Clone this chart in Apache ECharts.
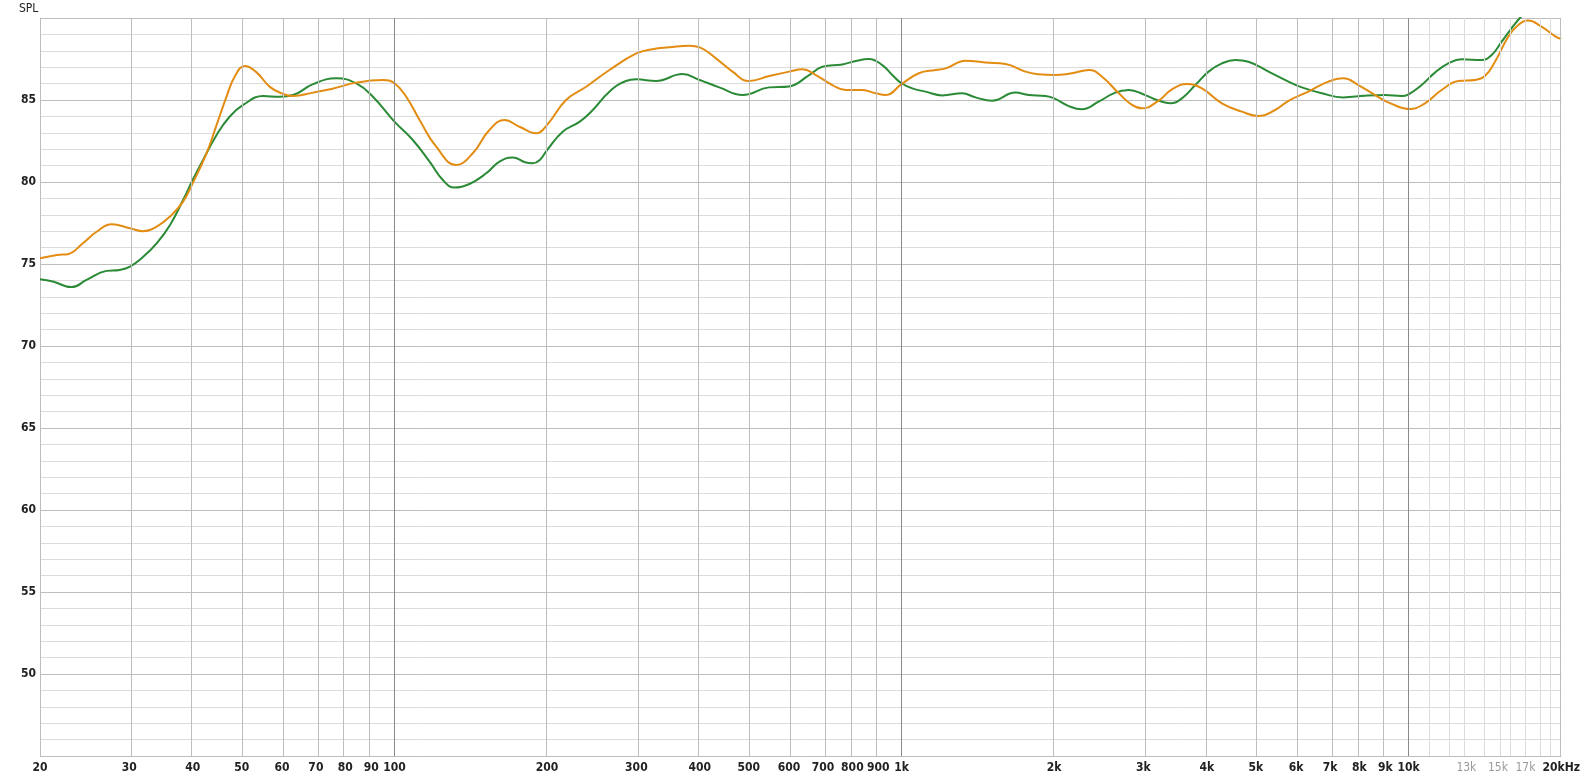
<!DOCTYPE html>
<html>
<head>
<meta charset="utf-8">
<script src="https://cdn.jsdelivr.net/npm/echarts@6/dist/echarts.min.js"></script>
<style>
html,body{margin:0;padding:0;background:#fff;}
#chart{width:1583px;height:780px;}
</style>
</head>
<body>
<div id="chart"></div>
<script>
// ---- data ----
const greenFreq = [20,21.2,23.1,24.7,27.05,28.7,30.1,32,34,36.1,38.3,40,42.1,44.6,47.3,50.3,55.1,59.4,63.1,69.1,76.8,84.1,90.7,100,108.7,117.3,124.6,131.4,140.6,151.7,161.1,171.1,181,187.4,193.5,200,214.7,232,246.1,265.4,286.1,300,327.9,370,400,437.1,485.8,548,600,657.5,698.2,764.7,812.1,862.6,916.2,959,1000,1050,1115,1203,1317,1399,1509,1677,1782,1922,2000,2136,2269,2448,2640,2805,3025,3214,3389,3573,3796,4032,4284,4550,4833,5294,5797,6157,6743,7439,8208,8986,9690,10000,10608,11270,11975,12721,13930,14577,15253,15960,16574,17300,18500,20000];
const greenSPL = [74.07,73.93,73.59,74.03,74.58,74.64,74.84,75.45,76.27,77.38,78.9,80.12,81.45,82.87,83.98,84.7,85.24,85.2,85.3,85.97,86.32,86.01,85.2,83.68,82.56,81.24,80.12,79.66,79.88,80.53,81.24,81.5,81.2,81.14,81.34,81.95,83.07,83.68,84.39,85.51,86.16,86.26,86.16,86.58,86.22,85.77,85.3,85.77,85.83,86.52,87.03,87.17,87.38,87.5,87.13,86.52,86.02,85.71,85.51,85.28,85.41,85.16,84.96,85.45,85.3,85.24,85.1,84.63,84.43,84.9,85.45,85.61,85.3,84.96,84.8,85.1,85.91,86.73,87.23,87.44,87.33,86.73,86.12,85.77,85.41,85.16,85.26,85.3,85.24,85.35,85.91,86.67,87.23,87.48,87.44,87.74,88.55,89.37,90.0,90.6,91.0,91.2];

const orangeFreq = [20,21.6,22.7,24.3,25.9,27.7,30.1,31.96,33.97,36.1,38.3,40,42.6,44.6,46.65,48.4,50.7,53.4,56.8,60,63.1,69.1,75.5,84.1,94.9,100,105.5,112.1,120.9,132.4,142.7,153.9,164.8,176.4,190.3,200,218,238.8,265.4,300,322.9,348.3,381.3,400,430.5,464.2,500,548.1,600.4,637.9,677.6,730.6,776.2,837.2,889.2,930.8,1000,1082,1167,1222,1338,1464,1604,1755,1865,2000,2169,2341,2486,2682,2848,2980,3214,3414,3656,3913,4284,4691,5057,5455,5797,6344,6948,7439,7959,8589,9262,10080,10770,11617,12530,13517,14143,14802,15720,16452,17219,18288,19427,20000];
const orangeSPL = [75.35,75.55,75.6,76.27,76.98,77.42,77.18,77.0,77.28,77.9,78.8,79.92,81.75,83.48,85.2,86.42,87.07,86.7,85.8,85.4,85.24,85.45,85.69,86.06,86.22,86.02,85.2,83.78,82.15,81.04,81.75,83.17,83.78,83.37,82.97,83.48,85.0,85.81,86.83,87.84,88.1,88.21,88.31,88.21,87.54,86.73,86.16,86.46,86.73,86.87,86.52,85.91,85.61,85.61,85.41,85.3,85.97,86.63,86.83,86.93,87.4,87.28,87.19,86.73,86.57,86.52,86.63,86.83,86.42,85.41,84.7,84.49,84.96,85.65,85.97,85.71,84.8,84.29,84.02,84.39,84.95,85.51,86.12,86.32,85.91,85.3,84.76,84.45,84.8,85.61,86.16,86.22,86.46,87.33,88.86,89.57,89.84,89.47,88.9,88.72];

const tickFreq = [20,30,40,50,60,70,80,90,100,200,300,400,500,600,700,800,900,1000,2000,3000,4000,5000,6000,7000,8000,9000,10000,13000,15000,17000,20000];
const tickText = ['20','30','40','50','60','70','80','90','100','200','300','400','500','600','700','800','900','1k','2k','3k','4k','5k','6k','7k','8k','9k','10k','13k','15k','17k','20kHz'];
const grayTicks = ['13k','15k','17k'];

const gridFreq = [30,40,50,60,70,80,90,100,200,300,400,500,600,700,800,900,1000,2000,3000,4000,5000,6000,7000,8000,9000,10000,11000,12000,13000,14000,15000,16000,17000,18000,19000,20000];
const decadeFreq = [100,1000,10000];

// ---- build ----
const L = Math.log10;
const FONT = "'Liberation Sans Narrow','DejaVu Sans Condensed','Roboto Condensed','Liberation Sans',sans-serif";
const pairs = (fs, vs) => fs.map((f, i) => [L(f), vs[i]]);

const gridLines = gridFreq.map(f => {
  let color = '#bdbdbd';
  if (decadeFreq.indexOf(f) >= 0) color = '#8a8a8a';
  else if (f > 10000 && f < 20000) color = '#dcdcdc';
  return { xAxis: L(f), lineStyle: { color: color, width: 1, type: 'solid' } };
});

const minorColors = ['#bdbdbd', '#dcdcdc', '#dcdcdc', '#dcdcdc', '#dcdcdc'];

const chart = echarts.init(document.getElementById('chart'), null, { renderer: 'canvas' });
chart.setOption({
  animation: false,
  backgroundColor: '#ffffff',
  title: {
    text: 'SPL', left: 19, top: 3, padding: 0,
    textStyle: { fontFamily: FONT, fontSize: 12, fontWeight: 'normal', color: '#222' }
  },
  grid: { left: 40, right: 20, top: 18, bottom: 24, containLabel: false },
  xAxis: {
    type: 'value', min: L(20), max: L(20000),
    axisLine: { show: false }, axisTick: { show: false }, splitLine: { show: false },
    axisLabel: {
      show: true,
      customValues: tickFreq.map(L),
      margin: 6,
      fontFamily: FONT, fontSize: 12, fontWeight: 'bold', color: '#222',
      formatter: function (v, idx) {
        let best = 0, d = 1e9;
        for (let i = 0; i < tickFreq.length; i++) {
          const dd = Math.abs(L(tickFreq[i]) - v);
          if (dd < d) { d = dd; best = i; }
        }
        const t = tickText[best];
        return grayTicks.indexOf(t) >= 0 ? '{g|' + t + '}' : t;
      },
      rich: { g: { color: '#9a9a9a', fontFamily: FONT, fontSize: 12, fontWeight: 'normal' } }
    }
  },
  yAxis: {
    type: 'value', min: 45, max: 90, interval: 1,
    axisLine: { show: true, lineStyle: { color: '#bdbdbd', width: 1 } },
    axisTick: { show: false },
    axisLabel: {
      margin: 4, fontFamily: FONT, fontSize: 12, fontWeight: 'bold', color: '#222',
      formatter: v => (v % 5 === 0 && v > 45 && v < 90) ? String(v) : ''
    },
    splitLine: { show: true, lineStyle: { color: minorColors, width: 1 } }
  },
  series: [
    {
      name: 'grid', type: 'line', z: 1, silent: true, symbol: 'none',
      data: [[L(20), 45]],
      lineStyle: { opacity: 0 },
      markLine: {
        silent: true, symbol: ['none', 'none'], animation: false,
        label: { show: false },
        data: gridLines
      }
    },
    {
      name: 'green', type: 'line', z: 3, symbol: 'none', smooth: 0.45, clip: true,
      data: pairs(greenFreq, greenSPL),
      lineStyle: { color: '#2a8a36', width: 2 }
    },
    {
      name: 'orange', type: 'line', z: 4, symbol: 'none', smooth: 0.45, clip: true,
      data: pairs(orangeFreq, orangeSPL),
      lineStyle: { color: '#e38c12', width: 2 }
    }
  ]
});
</script>
</body>
</html>
